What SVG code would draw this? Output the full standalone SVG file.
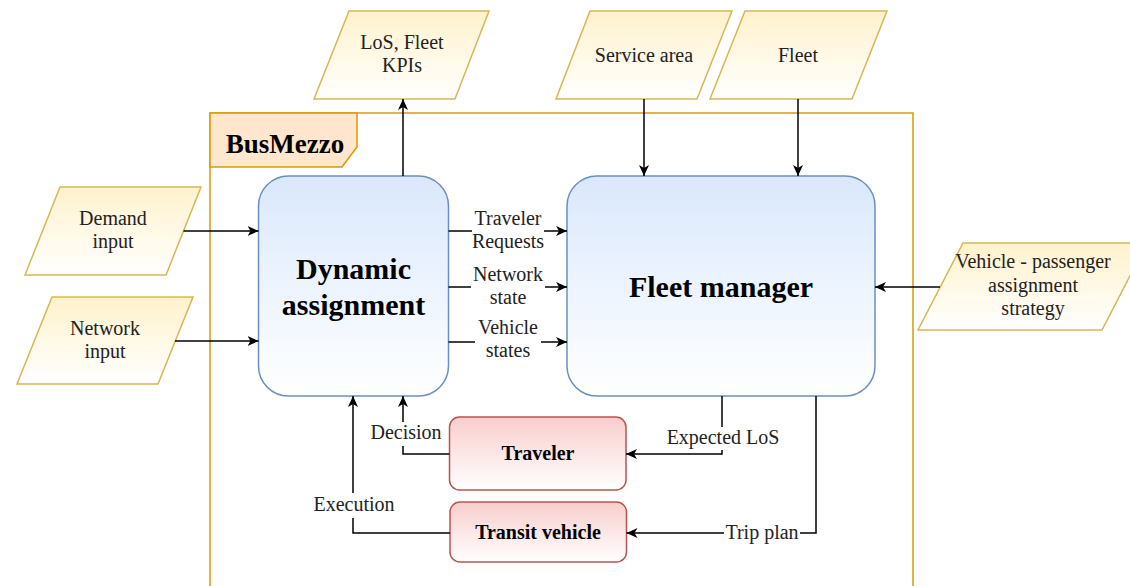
<svg xmlns="http://www.w3.org/2000/svg" width="1130" height="586" viewBox="0 0 1130 586">
  <defs>
    <linearGradient id="gYellow" x1="0" y1="0" x2="0" y2="1">
      <stop offset="0" stop-color="#fff2cc"/>
      <stop offset="1" stop-color="#ffffff"/>
    </linearGradient>
    <linearGradient id="gBlue" x1="0" y1="0" x2="0" y2="1">
      <stop offset="0" stop-color="#dae8fc"/>
      <stop offset="1" stop-color="#ffffff"/>
    </linearGradient>
    <linearGradient id="gRed" x1="0" y1="0" x2="0" y2="1">
      <stop offset="0" stop-color="#f8cecc"/>
      <stop offset="1" stop-color="#ffffff"/>
    </linearGradient>
    <marker id="arrow" markerUnits="userSpaceOnUse" markerWidth="14" markerHeight="12" refX="11" refY="6" orient="auto">
      <path d="M0,1 L11,6 L0,11 L3,6 Z" fill="#000"/>
    </marker>
  </defs>
  <style>
    .io { fill: url(#gYellow); stroke: #d6b656; stroke-width: 1.5; }
    .blue { fill: url(#gBlue); stroke: #6c8ebf; stroke-width: 1.5; }
    .red { fill: url(#gRed); stroke: #b85450; stroke-width: 1.5; }
    .lbl { font-family: "Liberation Serif", "Times New Roman", serif; font-size: 20px; fill: #222; text-anchor: middle; }
    .big { font-family: "Liberation Serif", "Times New Roman", serif; font-size: 30px; font-weight: bold; fill: #000; text-anchor: middle; }
    .mid { font-family: "Liberation Serif", "Times New Roman", serif; font-size: 20px; font-weight: bold; fill: #000; text-anchor: middle; }
    .edge { fill: none; stroke: #000; stroke-width: 1.5; }
    .bg { fill: #ffffff; }
  </style>

  <rect width="1130" height="586" fill="#ffffff"/>

  <!-- BusMezzo container -->
  <g id="busmezzo">
    <rect x="210" y="113" width="703" height="490" fill="none" stroke="#d79b00" stroke-width="1.5"/>
    <polygon points="210,113 357,113 357,147 342,167 210,167" fill="#ffe6cc" stroke="#d79b00" stroke-width="1.5"/>
    <text x="285" y="153" font-family="Liberation Serif, Times New Roman, serif" font-size="27" font-weight="bold" fill="#000" text-anchor="middle">BusMezzo</text>
  </g>

  <!-- Inputs and outputs -->
  <g id="demand-input">
    <polygon class="io" points="60,187 201,187 166,275 25,275"/>
    <text class="lbl" x="113" y="225">Demand</text>
    <text class="lbl" x="113" y="248">input</text>
  </g>
  <g id="network-input">
    <polygon class="io" points="52,297 193,297 158,384 17,384"/>
    <text class="lbl" x="105" y="335">Network</text>
    <text class="lbl" x="105" y="358">input</text>
  </g>
  <g id="los-kpis">
    <polygon class="io" points="349,11 489,11 455,99 314,99"/>
    <text class="lbl" x="402" y="49">LoS, Fleet</text>
    <text class="lbl" x="402" y="72">KPIs</text>
  </g>
  <g id="service-area">
    <polygon class="io" points="590,11 732,11 697,99 556,99"/>
    <text class="lbl" x="644" y="62">Service area</text>
  </g>
  <g id="fleet">
    <polygon class="io" points="745,11 887,11 852,99 710,99"/>
    <text class="lbl" x="798" y="62">Fleet</text>
  </g>
  <g id="strategy">
    <polygon class="io" points="963,243 1147,243 1102,330 918,330"/>
    <text class="lbl" x="1033" y="268">Vehicle - passenger</text>
    <text class="lbl" x="1033" y="292">assignment</text>
    <text class="lbl" x="1033" y="315">strategy</text>
  </g>

  <!-- Core modules -->
  <g id="dynamic-assignment">
    <rect class="blue" x="258.5" y="176" width="190" height="220" rx="30" ry="30"/>
    <text class="big" x="353.5" y="279">Dynamic</text>
    <text class="big" x="353.5" y="315">assignment</text>
  </g>
  <g id="fleet-manager">
    <rect class="blue" x="567" y="176" width="308" height="220" rx="30" ry="30"/>
    <text class="big" x="721" y="297">Fleet manager</text>
  </g>
  <g id="traveler">
    <rect class="red" x="449.5" y="417" width="176.5" height="73" rx="10" ry="10"/>
    <text class="mid" x="538" y="460">Traveler</text>
  </g>
  <g id="transit-vehicle">
    <rect class="red" x="450" y="502" width="176.5" height="60" rx="10" ry="10"/>
    <text class="mid" x="538" y="539">Transit vehicle</text>
  </g>

  <!-- Connectors -->
  <g id="connectors">
    <path class="edge" d="M183.5,231 L258.5,231" marker-end="url(#arrow)"/>
    <path class="edge" d="M175,341 L258.5,341" marker-end="url(#arrow)"/>
    <path class="edge" d="M403,176 L403,99" marker-end="url(#arrow)"/>
    <path class="edge" d="M644,99 L644,176" marker-end="url(#arrow)"/>
    <path class="edge" d="M798,99 L798,176" marker-end="url(#arrow)"/>
    <path class="edge" d="M940,287 L875,287" marker-end="url(#arrow)"/>

    <path class="edge" d="M448.5,231 L567,231" marker-end="url(#arrow)"/>
    <path class="edge" d="M448.5,287 L567,287" marker-end="url(#arrow)"/>
    <path class="edge" d="M448.5,342 L567,342" marker-end="url(#arrow)"/>

    <path class="edge" d="M449.5,454 L403,454 L403,396" marker-end="url(#arrow)"/>
    <path class="edge" d="M450,533 L353,533 L353,396" marker-end="url(#arrow)"/>
    <path class="edge" d="M722,396 L722,454 L626,454" marker-end="url(#arrow)"/>
    <path class="edge" d="M816,396 L816,533 L626.5,533" marker-end="url(#arrow)"/>

    <!-- edge labels -->
    <rect class="bg" x="472" y="207" width="72" height="47"/>
    <text class="lbl" x="508" y="225">Traveler</text>
    <text class="lbl" x="508" y="248">Requests</text>

    <rect class="bg" x="471" y="263" width="74" height="47"/>
    <text class="lbl" x="508" y="281">Network</text>
    <text class="lbl" x="508" y="304">state</text>

    <rect class="bg" x="475" y="317" width="66" height="46"/>
    <text class="lbl" x="508" y="334">Vehicle</text>
    <text class="lbl" x="508" y="357">states</text>

    <rect class="bg" x="368" y="422" width="76" height="24"/>
    <text class="lbl" x="406" y="439">Decision</text>

    <rect class="bg" x="311" y="493" width="86" height="25"/>
    <text class="lbl" x="354" y="511">Execution</text>

    <rect class="bg" x="665" y="427" width="117" height="23"/>
    <text class="lbl" x="723" y="444">Expected LoS</text>

    <rect class="bg" x="724" y="521" width="76" height="24"/>
    <text class="lbl" x="762" y="539">Trip plan</text>
  </g>
</svg>
